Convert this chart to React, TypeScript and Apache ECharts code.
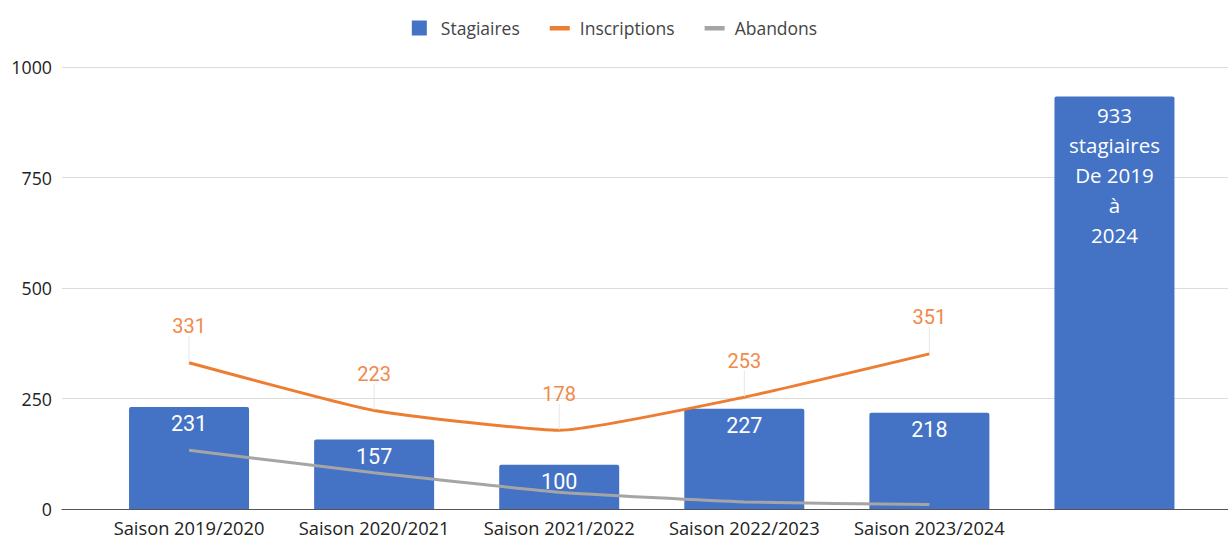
import React, { useEffect, useRef } from "react";
import * as echarts from "echarts";

const categories = ["Saison 2019/2020", "Saison 2020/2021", "Saison 2021/2022", "Saison 2022/2023", "Saison 2023/2024", ""];
const stagiaires = [231, 157, 100, 227, 218, 933];
const inscriptions = [331, 223, 178, 253, 351, null];
const abandons = [133, 82, 38, 16, 10, null];
const yTicks = [0, 250, 500, 750, 1000];
const totalLabel = "933\nstagiaires\nDe 2019\nà\n2024";

const BLUE = "#4472C4";
const ORANGE = "#ED7D31";
const GRAY = "#A5A5A5";
const FONT = "'Open Sans', Lato, sans-serif";
const NUMFONT = "Roboto, sans-serif";

const squareIcon = "path://M0,0h0.01v0.01h-0.01zM1,0.5h15v15h-15zM20,16h0.01v0.01h-0.01z";
const lineIcon = "path://M0,0h0.01v0.01h-0.01zM0,6h20v4.5h-20zM20,16h0.01v0.01h-0.01z";

export default function App() {
  const ref = useRef<HTMLDivElement>(null);
  useEffect(() => {
    if (!ref.current) return;
    const chart = echarts.init(ref.current, null, { renderer: "svg" });
    const top = 67;
    const bottom = 29;
    chart.setOption({
      animation: false,
      backgroundColor: "#fff",
      textStyle: { fontFamily: FONT },
      legend: {
        top: 14,
        left: "center",
        itemWidth: 20,
        itemHeight: 16,
        itemGap: 30,
        textStyle: { fontFamily: FONT, fontSize: 17.5, color: "#444", padding: [0, 0, 0, 5] },
        data: [
          { name: "Stagiaires", icon: squareIcon, itemStyle: { color: BLUE } },
          { name: "Inscriptions", icon: lineIcon, itemStyle: { color: ORANGE, opacity: 1 } },
          { name: "Abandons", icon: lineIcon, itemStyle: { color: GRAY } },
        ],
      },
      grid: [
        { left: 96.5, right: 21, top, bottom },
        { left: 62, right: 0, top, bottom },
      ],
      xAxis: [
        {
          type: "category",
          gridIndex: 0,
          data: categories,
          axisLine: { show: false },
          axisTick: { show: false },
          axisLabel: { interval: 0, fontFamily: FONT, fontSize: 18.3, color: "#222", margin: 9 },
        },
        {
          type: "value",
          gridIndex: 1,
          min: 0,
          max: 1,
          axisLine: { show: true, onZero: false, lineStyle: { color: "#555", width: 1 } },
          axisTick: { show: false },
          axisLabel: { show: false },
          splitLine: { show: false },
        },
      ],
      yAxis: [
        {
          type: "value",
          gridIndex: 0,
          min: 0,
          max: 1000,
          interval: 250,
          axisLabel: { show: false },
          splitLine: { show: false },
          axisLine: { show: false },
          axisTick: { show: false },
        },
        {
          type: "value",
          gridIndex: 1,
          min: yTicks[0],
          max: yTicks[yTicks.length - 1],
          interval: 250,
          axisLine: { show: false },
          axisTick: { show: false },
          axisLabel: { fontFamily: FONT, fontSize: 17.8, color: "#222", margin: 10, formatter: (v: number) => String(v) },
          splitLine: { lineStyle: { color: "#dcdcdc", width: 1 } },
        },
      ],
      series: [
        {
          name: "Stagiaires",
          type: "bar",
          xAxisIndex: 0,
          yAxisIndex: 0,
          data: stagiaires.map((v, i) =>
            i === 5
              ? {
                  value: v,
                  label: {
                    formatter: totalLabel,
                    fontFamily: FONT,
                    fontSize: 20.5,
                    lineHeight: 30,
                    distance: 3,
                  },
                }
              : v
          ),
          barWidth: 120,
          itemStyle: { color: BLUE, borderRadius: [2, 2, 0, 0] },
          label: {
            show: true,
            position: "insideTop",
            distance: 6,
            color: "#fff",
            fontFamily: NUMFONT,
            fontSize: 21.5,
          },
          z: 1,
        },
        {
          name: "Inscriptions",
          type: "line",
          xAxisIndex: 0,
          yAxisIndex: 0,
          data: inscriptions,
          smooth: 0.15,
          symbol: "circle",
          symbolSize: 1,
          showSymbol: true,
          lineStyle: { color: ORANGE, width: 3 },
          itemStyle: { color: "rgba(0,0,0,0)" },
          label: {
            show: true,
            position: "top",
            distance: 0,
            color: "#F08A4B",
            fontFamily: NUMFONT,
            fontSize: 20,
          },
          labelLayout: { dy: -26 },
          labelLine: { show: true, lineStyle: { color: "#e6e6e6", width: 1 } },
          z: 3,
        },
        {
          name: "Abandons",
          type: "line",
          xAxisIndex: 0,
          yAxisIndex: 0,
          data: abandons,
          smooth: 0.15,
          symbol: "none",
          lineStyle: { color: GRAY, width: 3 },
          itemStyle: { color: GRAY },
          z: 2,
        },
      ],
    });
    return () => chart.dispose();
  }, []);
  return <div ref={ref} style={{ width: 1228, height: 538, position: "absolute", left: 0, top: 0 }} />;
}
